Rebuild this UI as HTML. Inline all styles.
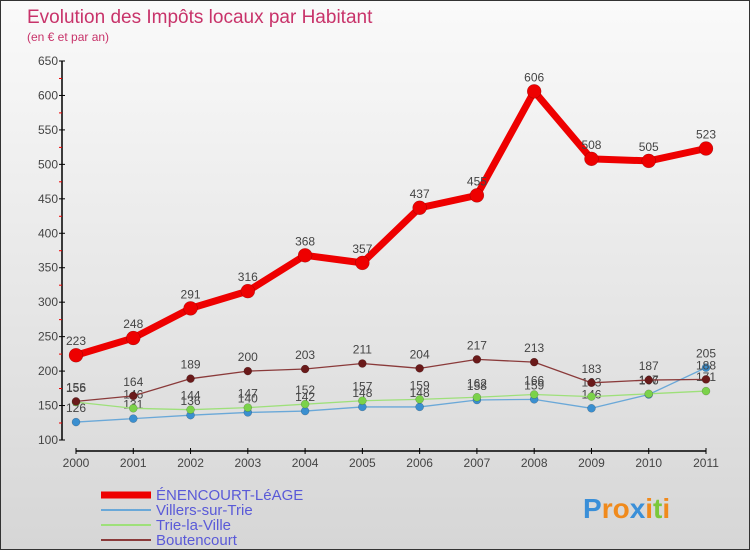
<!DOCTYPE html>
<html><head><meta charset="utf-8"><style>
body{margin:0;width:750px;height:550px;overflow:hidden;font-family:"Liberation Sans",sans-serif}
#wrap{position:relative;width:748px;height:548px;border:1px solid #333;background:linear-gradient(#fafafa,#d6d6d6)}
svg{position:absolute;left:0;top:0}
</style></head><body>
<div id="wrap">
<svg id="c" width="750" height="550">
<text x="26" y="22" font-size="19" fill="#c8336a">Evolution des Impôts locaux par Habitant</text>
<text x="26" y="40" font-size="12" fill="#c8336a">(en € et par an)</text>
<text x="582" y="517" font-size="28" font-weight="bold" fill="#3a8fd8">P<tspan fill="#f08a1c">ro</tspan>x<tspan fill="#f08a1c">i</tspan><tspan fill="#7bc83a">t</tspan><tspan fill="#f08a1c">i</tspan></text>
</svg>
</div>
<script>
const years=["2000","2001","2002","2003","2004","2005","2006","2007","2008","2009","2010","2011"];
const yTicks=[100,150,200,250,300,350,400,450,500,550,600,650];
const mainVals=[223,248,291,316,368,357,437,455,606,508,505,523];
const villersVals=[126,131,136,140,142,148,148,158,159,146,166,205];
const trieVals=[155,146,144,147,152,157,159,162,166,163,167,171];
const boutVals=[156,164,189,200,203,211,204,217,213,183,187,188];
const seriesNames=["ÉNENCOURT-LéAGE","Villers-sur-Trie","Trie-la-Ville","Boutencourt"];
const NS="http://www.w3.org/2000/svg",svg=document.getElementById('c');
const X=i=>75+i*(630/11), Y=v=>439-(v-100)*(379/550);
function mk(t,a,p){const e=document.createElementNS(NS,t);for(const k in a)e.setAttribute(k,a[k]);(p||svg).appendChild(e);return e;}
let ax=mk('line',{x1:61,y1:60,x2:61,y2:439,stroke:'#000','stroke-width':1.5});


let xa=mk('line',{x1:75,y1:450,x2:705,y2:450,stroke:'#000','stroke-width':1.5});


yTicks.forEach(v=>{const y=Y(v);mk('line',{x1:58,y1:y,x2:64,y2:y,stroke:'#000'});
 if(v<650)mk('line',{x1:58,y1:y-17,x2:61,y2:y-17,stroke:'#e00'});
 const t=mk('text',{x:57,y:y+4,'text-anchor':'end','font-size':12,fill:'#444'});t.textContent=v;
 
 });
years.forEach((yr,i)=>{const x=X(i);mk('line',{x1:x,y1:447,x2:x,y2:453,stroke:'#000'});
 const t=mk('text',{x:x,y:466,'text-anchor':'middle','font-size':12,fill:'#444'});t.textContent=yr;
 
 });
function series(vals,color,dot,w,r,name,fs){
 const g=mk('g',{});
 
 
 mk('polyline',{points:vals.map((v,i)=>X(i)+','+Y(v)).join(' '),fill:'none',stroke:color,'stroke-width':w,'stroke-linejoin':'round'},g);
 vals.forEach((v,i)=>{const c=mk('circle',{cx:X(i),cy:Y(v),r:r,fill:dot,stroke:'rgba(0,0,0,0.3)','stroke-width':0.5},g);
  
  
  const t=mk('text',{x:X(i),y:Y(v)-10,'text-anchor':'middle','font-size':fs,fill:'#444'},g);t.textContent=v;});
}
series(villersVals,'#6aa8d8','#3a8fd0',1.3,4,'series-villers',12);
series(trieVals,'#9ee07a','#7bd24a',1.3,4,'series-trie',12);
series(boutVals,'#8a3a3a','#6a1a1a',1.3,4,'series-boutencourt',12);
series(mainVals,'#ee0000','#ee0000',7,7,'series-main',12);
const lc=['#ee0000','#6aa8d8','#9ee07a','#8a3a3a'],lw=[7,2,2,2];
seriesNames.forEach((n,k)=>{const y=494+k*15;
 const l=mk('line',{x1:100,y1:y,x2:150,y2:y,stroke:lc[k],'stroke-width':lw[k]});
 
 
 const t=mk('text',{x:155,y:y+5,'font-size':15,fill:'#5a5ad8'});t.textContent=n;
 
 });
</script>
</body></html>
